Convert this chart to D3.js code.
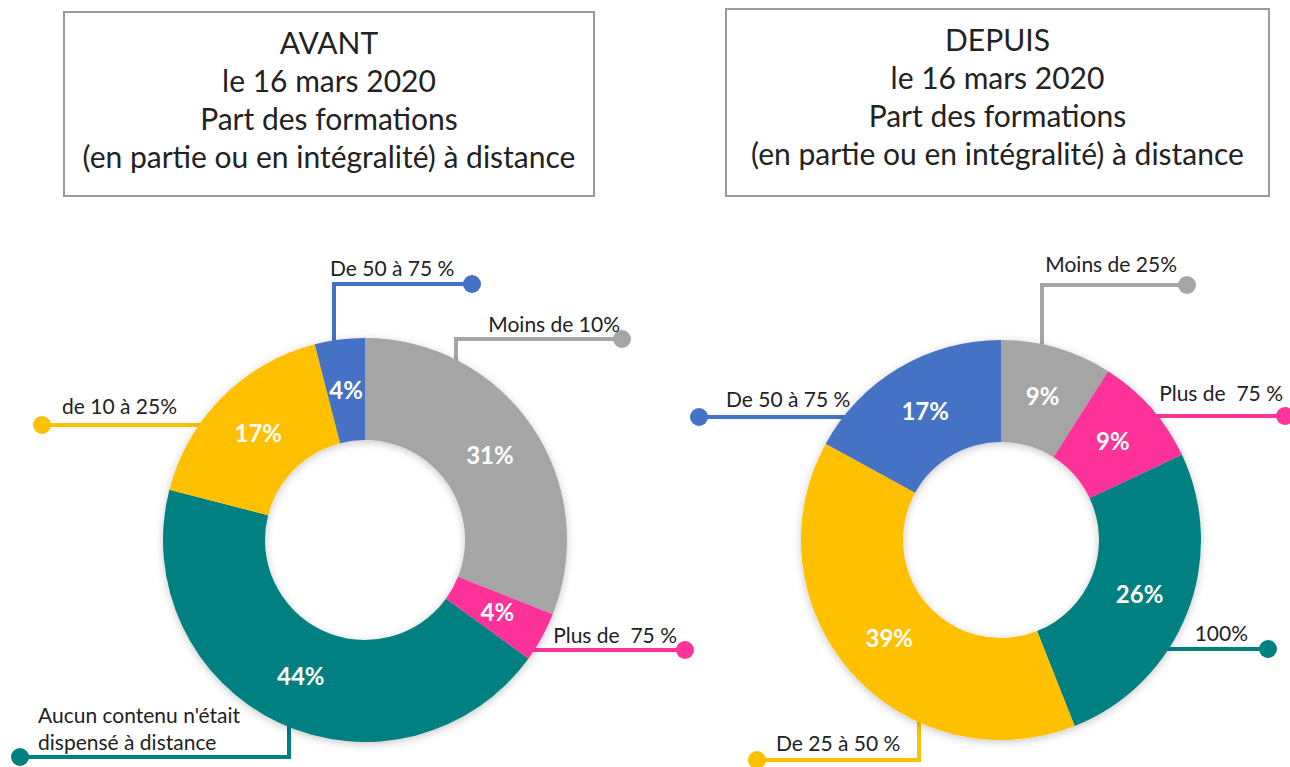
<!DOCTYPE html>
<html>
<head>
<meta charset="utf-8">
<script src="https://cdn.jsdelivr.net/npm/d3@7"></script>
<style>
    body { margin: 0; background: #fff; }
    svg { display: block; }
    text { font-family: Lato, "Open Sans", sans-serif; white-space: pre; }
</style>
</head>
<body>
<script>
// --- données ---
const avantTitle = ['AVANT', 'le 16 mars 2020', 'Part des formations', '(en partie ou en intégralité) à distance'];
const depuisTitle = ['DEPUIS', 'le 16 mars 2020', 'Part des formations', '(en partie ou en intégralité) à distance'];

const avantLabels = ['Moins de 10%', 'Plus de  75 %', "Aucun contenu n'était|dispensé à distance", 'de 10 à 25%', 'De 50 à 75 %'];
const avantValues = [31, 4, 44, 17, 4];

const depuisLabels = ['Moins de 25%', 'Plus de  75 %', '100%', 'De 25 à 50 %', 'De 50 à 75 %'];
const depuisValues = [9, 9, 26, 39, 17];

const avantColors = ['#A5A5A5', '#FF3399', '#008080', '#FFC000', '#4472C4'];
const depuisColors = ['#A5A5A5', '#FF3399', '#008080', '#FFC000', '#4472C4'];

// --- mise en page des renvois (relatifs au centre du donut) ---
// kind 'v' : montée/descente verticale puis horizontale ; 'h' : horizontale
const avantCallouts = [
    {kind: 'v', x: 91, y: -201, dot: 257, tx: 255, ty: -208, anchor: 'end'},
    {kind: 'h', y: 110, dot: 320, tx: 312, ty: 103, anchor: 'end'},
    {kind: 'v', x: -76, y: 217, dot: -345, tx: -327, ty: 183, anchor: 'start'},
    {kind: 'h', y: -115, dot: -323, tx: -303, ty: -126, anchor: 'start'},
    {kind: 'v', x: -31, y: -256, dot: 107, tx: -35, ty: -264, anchor: 'start'}
];
const depuisCallouts = [
    {kind: 'v', x: 41, y: -255, dot: 186, tx: 176, ty: -268, anchor: 'end'},
    {kind: 'h', y: -124, dot: 284, tx: 282, ty: -139, anchor: 'end'},
    {kind: 'h', y: 109, dot: 267, tx: 247, ty: 101, anchor: 'end'},
    {kind: 'v', x: -82, y: 220, dot: -244, tx: -225, ty: 211, anchor: 'start'},
    {kind: 'h', y: -123, dot: -302, tx: -275, ty: -133, anchor: 'start'}
];

const width = 1290, height = 767;

const svg = d3.select('body').append('svg')
    .attr('width', width)
    .attr('height', height);

const defs = svg.append('defs');
const filter = defs.append('filter').attr('id', 'shadow')
    .attr('x', '-20%').attr('y', '-20%').attr('width', '140%').attr('height', '140%');
filter.append('feDropShadow')
    .attr('dx', 0).attr('dy', 2)
    .attr('stdDeviation', 4)
    .attr('flood-color', '#000')
    .attr('flood-opacity', 0.22);

function drawTitle(lines, box) {
    const g = svg.append('g');
    g.append('rect')
        .attr('x', box.x).attr('y', box.y)
        .attr('width', box.w).attr('height', box.h)
        .attr('fill', '#fff')
        .attr('stroke', '#9a9a9a')
        .attr('stroke-width', 2);
    g.selectAll('text')
        .data(lines)
        .enter().append('text')
        .attr('x', box.x + box.w / 2)
        .attr('y', (d, i) => box.y + 42 + i * 38)
        .attr('text-anchor', 'middle')
        .attr('font-size', 30)
        .attr('fill', '#222')
        .text(d => d);
}

function drawDonut({cx, cy, outer, inner, labels, values, colors, callouts}) {
    const g = svg.append('g').attr('transform', `translate(${cx},${cy})`);

    const pie = d3.pie().sort(null).value(d => d);
    const arcs = pie(values);
    const arc = d3.arc().innerRadius(inner).outerRadius(outer);
    const labelArc = d3.arc().innerRadius((inner + outer) / 2).outerRadius((inner + outer) / 2);

    // renvois (sous le donut)
    const calloutG = g.append('g');
    callouts.forEach((c, i) => {
        let pts;
        if (c.kind === 'v') {
            const edgeY = Math.sign(c.y) * Math.sqrt(outer * outer - c.x * c.x);
            pts = [[c.x, edgeY - Math.sign(c.y) * 8], [c.x, c.y], [c.dot, c.y]];
        } else {
            const edgeX = Math.sign(c.dot) * Math.sqrt(outer * outer - c.y * c.y);
            pts = [[edgeX - Math.sign(c.dot) * 8, c.y], [c.dot, c.y]];
        }
        calloutG.append('path')
            .attr('d', d3.line()(pts))
            .attr('fill', 'none')
            .attr('stroke', colors[i])
            .attr('stroke-width', 4);
        calloutG.append('circle')
            .attr('cx', c.dot).attr('cy', c.y)
            .attr('r', 9)
            .attr('fill', colors[i]);
        const t = calloutG.append('text')
            .attr('x', c.tx).attr('y', c.ty)
            .attr('text-anchor', c.anchor)
            .attr('font-size', 21)
            .attr('fill', '#222');
        labels[i].split('|').forEach((line, j) => {
            t.append('tspan')
                .attr('x', c.tx)
                .attr('dy', j === 0 ? 0 : 27)
                .text(line);
        });
    });

    g.append('g')
        .attr('filter', 'url(#shadow)')
        .selectAll('path')
        .data(arcs)
        .enter().append('path')
        .attr('d', arc)
        .attr('fill', (d, i) => colors[i]);

    g.append('g')
        .selectAll('text')
        .data(arcs)
        .enter().append('text')
        .attr('transform', d => `translate(${labelArc.centroid(d)})`)
        .attr('dy', '0.35em')
        .attr('text-anchor', 'middle')
        .attr('font-size', 24)
        .attr('font-weight', 'bold')
        .attr('fill', '#fff')
        .text(d => d.data + '%');
}

drawTitle(avantTitle, {x: 64, y: 12, w: 530, h: 184});
drawTitle(depuisTitle, {x: 726, y: 9, w: 543, h: 187});

drawDonut({
    cx: 365, cy: 540, outer: 202, inner: 100,
    labels: avantLabels, values: avantValues, colors: avantColors, callouts: avantCallouts
});
drawDonut({
    cx: 1001, cy: 540, outer: 200, inner: 98,
    labels: depuisLabels, values: depuisValues, colors: depuisColors, callouts: depuisCallouts
});
</script>
</body>
</html>
